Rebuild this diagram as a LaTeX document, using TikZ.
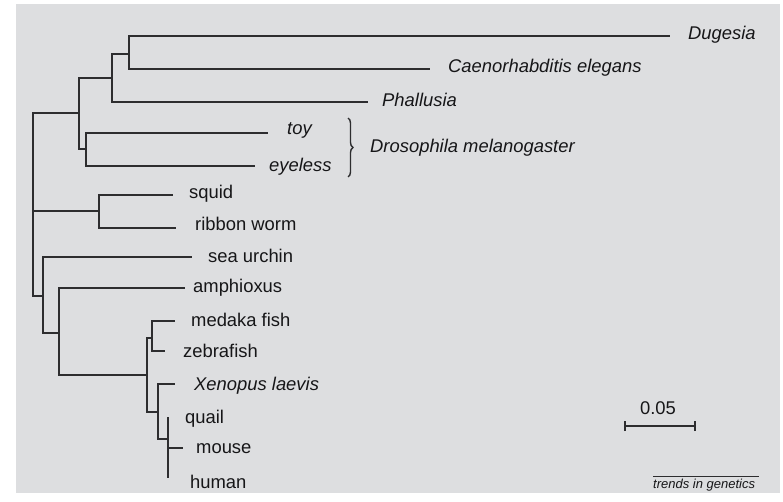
\documentclass[tikz,border=0pt]{standalone}
\usepackage{fontspec}
\setmainfont{Liberation Sans}
\usetikzlibrary{decorations.pathreplacing}
\definecolor{bg}{RGB}{221,222,224}
\definecolor{ln}{RGB}{45,45,47}
\definecolor{tx}{RGB}{22,22,24}
\tikzset{
  branch/.style={draw=ln,line width=1.6bp},
  lab/.style={anchor=base west,inner sep=0pt,text=tx,font=\fontsize{18.4bp}{22bp}\selectfont},
  ilab/.style={lab,font=\fontsize{18.4bp}{22bp}\selectfont\itshape},
}
\begin{document}
\begin{tikzpicture}[x=1bp,y=-1bp]
\useasboundingbox (0,0) rectangle (783,502);
\fill[bg] (16,4) rectangle (780,493);
% internal nodes
\coordinate (R) at (33,211);
\coordinate (P1) at (79,113);
\coordinate (P2) at (112,78);
\coordinate (P3) at (129,54);
\coordinate (D) at (86,149);
\coordinate (S) at (99,211);
\coordinate (B1) at (43,296);
\coordinate (B2) at (59,333);
\coordinate (V) at (147,375);
\coordinate (F) at (152,338);
\coordinate (T) at (158,412);
\coordinate (A) at (168,439);
% leaf ends
\coordinate (dug) at (670,36);
\coordinate (cel) at (430,69);
\coordinate (pha) at (368,102);
\coordinate (toy) at (268,133);
\coordinate (eye) at (255,166);
\coordinate (squ) at (173,195);
\coordinate (rib) at (176,228);
\coordinate (sea) at (192,257);
\coordinate (amp) at (185,288);
\coordinate (med) at (175,321);
\coordinate (zeb) at (165,351);
\coordinate (xen) at (175,384);
\coordinate (qua) at (168,417);
\coordinate (mou) at (183,448);
\coordinate (hum) at (168,478);
% branches
\draw[branch] (R) |- (P1) (R) |- (S) (R) |- (B1);
\draw[branch] (P1) |- (P2) (P1) |- (D);
\draw[branch] (P2) |- (P3) (P2) |- (pha);
\draw[branch] (P3) |- (dug) (P3) |- (cel);
\draw[branch] (D) |- (toy) (D) |- (eye);
\draw[branch] (S) |- (squ) (S) |- (rib);
\draw[branch] (B1) |- (sea) (B1) |- (B2);
\draw[branch] (B2) |- (amp) (B2) |- (V);
\draw[branch] (V) |- (F) (V) |- (T);
\draw[branch] (F) |- (med) (F) |- (zeb);
\draw[branch] (T) |- (xen) (T) |- (A);
\draw[branch] (A) |- (qua) (A) |- (mou) (A) |- (hum);
% labels
\node[ilab] (Ldug) at (688,40) {Dugesia};
\node[ilab] (Lcel) at (448,73) {Caenorhabditis elegans};
\node[ilab] (Lpha) at (382,107) {Phallusia};
\node[ilab] (Ltoy) at (287,135) {toy};
\node[ilab] (Leye) at (269,172) {eyeless};
\node[ilab] (Ldro) at (370,153) {Drosophila melanogaster};
\node[lab] (Lsqu) at (189,199) {squid};
\node[lab] (Lrib) at (195,231) {ribbon worm};
\node[lab] (Lsea) at (208,263) {sea urchin};
\node[lab] (Lamp) at (193,293) {amphioxus};
\node[lab] (Lmed) at (191,326) {medaka fish};
\node[lab] (Lzeb) at (183,357) {zebrafish};
\node[ilab] (Lxen) at (194,390) {Xenopus laevis};
\node[lab] (Lqua) at (185,423) {quail};
\node[lab] (Lmou) at (196,453) {mouse};
\node[lab] (Lhum) at (190,488) {human};
% brace
\coordinate (brt) at (348,118);
\coordinate (brb) at (348,177);
\draw[ln,line width=1.4bp,decorate,decoration={brace,amplitude=5bp}] (brt) -- (brb);
% scale bar
\coordinate (sb1) at (625,426);
\coordinate (sb2) at (695,426);
\draw[ln,line width=1.6bp] (sb1) -- (sb2);
\draw[ln,line width=1.6bp] ([yshift=-5bp]sb1) -- ([yshift=5bp]sb1);
\draw[ln,line width=1.6bp] ([yshift=-5bp]sb2) -- ([yshift=5bp]sb2);
\node[lab,anchor=base] (Lsb) at (658,414) {0.05};
% journal mark
\node[anchor=base west,inner sep=0pt,text=tx,font=\fontsize{13bp}{15bp}\selectfont\itshape] (Ltig) at (653,488) {trends in genetics};
\draw[ln,line width=1bp] (653,476) -- (759,476);
\end{tikzpicture}
\end{document}
